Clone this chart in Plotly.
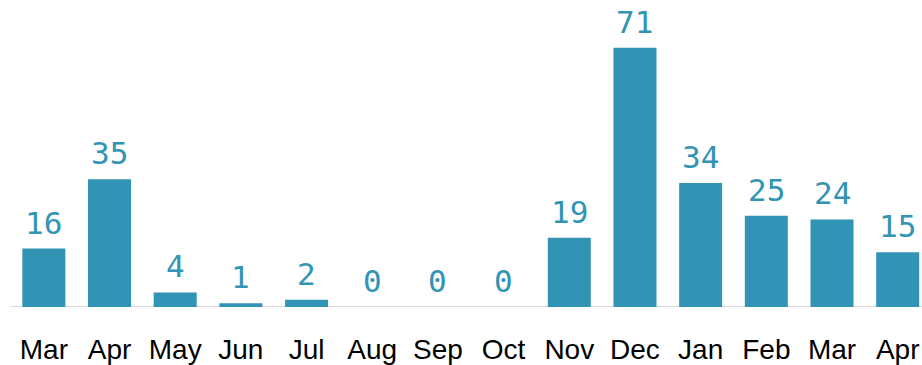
import plotly.graph_objects as go

months = ["Mar", "Apr", "May", "Jun", "Jul", "Aug", "Sep", "Oct",
          "Nov", "Dec", "Jan", "Feb", "Mar", "Apr"]
counts = [16, 35, 4, 1, 2, 0, 0, 0, 19, 71, 34, 25, 24, 15]

bar_color = "#3194b4"
positions = list(range(len(months)))

fig = go.Figure(
    go.Bar(
        x=positions,
        y=counts,
        width=0.655,
        marker=dict(color=bar_color, line=dict(width=0)),
        hoverinfo="skip",
    )
)

# value labels above each bar
for xi, v in zip(positions, counts):
    fig.add_annotation(
        x=xi, y=v, text=str(v), showarrow=False,
        yanchor="bottom", yshift=6,
        font=dict(family="DejaVu Sans Mono", size=31, color=bar_color),
    )

# light baseline across the plot
fig.add_shape(
    type="line", xref="paper", yref="y", x0=0, x1=1, y0=0, y1=0,
    line=dict(color="#d9d9d9", width=2), layer="below",
)

fig.update_layout(
    width=922, height=365,
    margin=dict(l=11, r=0, t=0, b=58),
    paper_bgcolor="white", plot_bgcolor="white",
    showlegend=False,
    xaxis=dict(
        range=[-0.5, 13.37],
        tickmode="array", tickvals=positions, ticktext=months,
        showgrid=False, zeroline=False, showline=False, ticks="",
        tickfont=dict(family="Liberation Sans", size=28, color="black"),
        ticklabelstandoff=23,
    ),
    yaxis=dict(range=[0, 84.1], visible=False, fixedrange=True),
)

fig.write_html("out.html")
